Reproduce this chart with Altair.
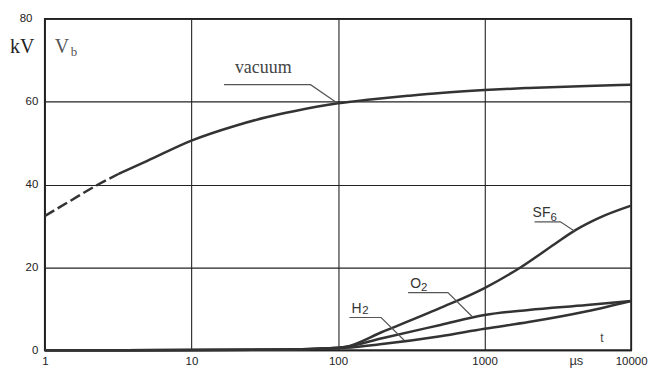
import altair as alt
import pandas as pd

# ---- data ----
vac_dash_t = [1, 1.5, 2.31, 3.2]
vac_dash_v = [32.4, 36.1, 40.0, 42.6]
vac_t = [3.2, 5, 10, 20, 33, 50, 100, 166, 300, 500, 1000, 2000, 5000, 10000]
vac_v = [42.6, 45.7, 50.6, 54.2, 56.3, 57.7, 59.6, 60.5, 61.4, 62.1, 62.8, 63.3, 63.8, 64.1]

sf6_t = [1, 10, 50, 80, 100, 112, 200, 500, 1000, 1780, 3000, 4170, 6000, 10000]
sf6_v = [0, 0.05, 0.2, 0.4, 0.6, 0.8, 4.4, 10.2, 15.0, 20.1, 25.6, 29.0, 31.9, 34.9]

o2_t = [1, 10, 50, 80, 100, 112, 200, 500, 1000, 2000, 5000, 10000]
o2_v = [0, 0.05, 0.2, 0.4, 0.6, 0.8, 2.9, 6.1, 8.5, 9.7, 10.9, 11.9]

h2_t = [1, 10, 50, 80, 100, 112, 200, 500, 1000, 2000, 5000, 10000]
h2_v = [0, 0.05, 0.2, 0.4, 0.5, 0.6, 1.5, 3.4, 5.2, 6.8, 9.4, 11.9]

x_ticks = [1, 10, 100, 1000, 10000]
y_ticks = [0, 20, 40, 60, 80]

# label leader lines (data coordinates)
lead_vac_t = [16.7, 65, 97.7]
lead_vac_v = [64.1, 64.1, 59.8]
lead_sf6_t = [2194, 3296, 4100]
lead_sf6_v = [31.0, 31.0, 28.8]
lead_o2_t = [301, 563, 819]
lead_o2_v = [13.9, 13.9, 8.2]
lead_h2_t = [119.7, 197, 283]
lead_h2_v = [7.9, 7.9, 2.4]

# ---- build tables ----
def frame(ts, vs, name):
    return pd.DataFrame({"t": ts, "v": vs, "s": name, "o": list(range(len(ts)))})

curves = pd.concat([
    frame(vac_t, vac_v, "vacuum"),
    frame(sf6_t, sf6_v, "SF6"),
    frame(o2_t, o2_v, "O2"),
    frame(h2_t, h2_v, "H2"),
])
dash = frame(vac_dash_t, vac_dash_v, "vacdash")
leads = pd.concat([
    frame(lead_vac_t, lead_vac_v, "vacuum"),
    frame(lead_sf6_t, lead_sf6_v, "SF6"),
    frame(lead_o2_t, lead_o2_v, "O2"),
    frame(lead_h2_t, lead_h2_v, "H2"),
])

xscale = alt.Scale(type="log", domain=[1, 10000], nice=False)
yscale = alt.Scale(domain=[0, 80], nice=False)

X = alt.X("t:Q", scale=xscale, axis=alt.Axis(
    values=x_ticks, labelExpr="format(datum.value, 'd')", grid=True,
    gridColor="#222", gridWidth=1.1, gridOpacity=1, ticks=False, domain=False,
    labelFont="Liberation Sans", labelFontSize=11.5, labelColor="#222",
    labelPadding=5, labelBaseline="top", title=None, labelFlush=False))
Y = alt.Y("v:Q", scale=yscale, axis=alt.Axis(
    values=y_ticks, grid=True, gridColor="#222", gridWidth=1.1, gridOpacity=1,
    ticks=False, domain=False, labelFont="Liberation Sans", labelFontSize=11.5,
    labelColor="#222", labelPadding={"condition": {"test": "datum.value == 80", "value": 13}, "value": 7},
    title=None, labelFlush=False))

lines = alt.Chart(curves).mark_line(interpolate="monotone", color="#333", strokeWidth=2.5).encode(
    x=X, y=Y, detail="s:N", order="o:Q")
dashed = alt.Chart(dash).mark_line(interpolate="monotone", color="#333", strokeWidth=2.5,
                                   strokeDash=[11, 4]).encode(
    x=alt.X("t:Q", scale=xscale), y=alt.Y("v:Q", scale=yscale), order="o:Q")
leaders = alt.Chart(leads).mark_line(color="#555", strokeWidth=1.2).encode(
    x=alt.X("t:Q", scale=xscale), y=alt.Y("v:Q", scale=yscale), detail="s:N", order="o:Q")

# ---- text labels (positions in data units) ----
def texts(rows, font, size, color):
    df = pd.DataFrame(rows, columns=["t", "v", "txt"])
    return alt.Chart(df).mark_text(align="left", baseline="alphabetic", font=font,
                                   fontSize=size, color=color).encode(
        x=alt.X("t:Q", scale=xscale), y=alt.Y("v:Q", scale=yscale), text="txt:N")

serif_big = texts([[0.578, 71.8, "kV"]], "Liberation Serif", 20, "#222")
serif_v = texts([[1.169, 71.8, "V"]], "Liberation Serif", 20, "#555")
serif_b = texts([[1.5, 71.1, "b"]], "Liberation Serif", 13, "#555")
vac_lbl = texts([[19.8, 67.0, "vacuum"]], "Liberation Serif", 18, "#444")
gas_main = texts([[2128, 32.2, "SF"], [311, 15.1, "O"], [123.5, 9.1, "H"]],
                 "Liberation Sans", 14, "#333")
gas_sub = texts([[2819, 31.2, "6"], [369, 14.2, "2"], [146.7, 8.65, "2"]],
                "Liberation Sans", 11.5, "#333")
t_lbl = texts([[6157, 1.9, "t"]], "Liberation Sans", 12, "#444")
us_lbl = texts([[3793, -3.6, "µs"]], "Liberation Sans", 13, "#333")

chart = alt.layer(
    lines, dashed, leaders, serif_big, serif_v, serif_b, vac_lbl, gas_main, gas_sub, t_lbl, us_lbl
).properties(
    width=589, height=333,
    autosize=alt.AutoSizeParams(type="none"),
    padding={"left": 37, "top": 10, "right": 20, "bottom": 17},
    background="white",
).configure_view(stroke="#222", strokeWidth=1.8)

chart.save("out.html", embed_options={"renderer": "svg", "actions": False})
